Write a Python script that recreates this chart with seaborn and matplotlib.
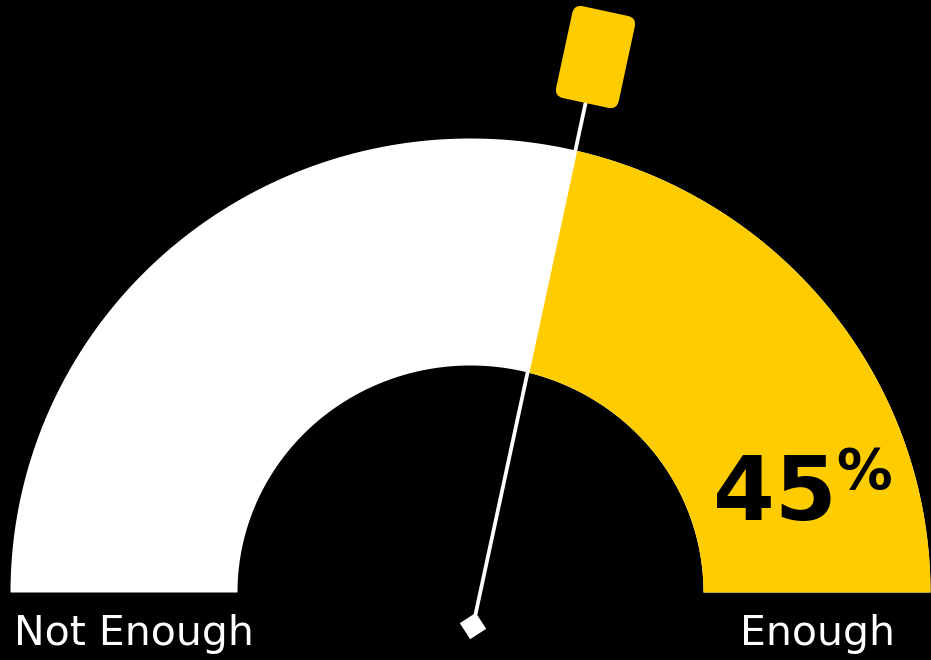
import numpy as np
import matplotlib
matplotlib.use("Agg")
import matplotlib.pyplot as plt
import matplotlib.patches as mpatches
from matplotlib.transforms import Affine2D
import seaborn as sns

# gauge reading and its labels
value = 45
end_labels = ["Not Enough", "Enough"]

sns.set_theme(style="dark", rc={"axes.facecolor": "black", "figure.facecolor": "black"})
plt.rcParams["font.family"] = ["DejaVu Sans"]

yellow = "#ffcc00"
W, H = 931, 660

fig = plt.figure(figsize=(9.31, 6.6), dpi=100)
ax = fig.add_axes([0, 0, 1, 1])
ax.set_xlim(0, W)
ax.set_ylim(0, H)
ax.set_axis_off()


def py(y):
    # picture rows count from the top
    return H - y


# half ring of the gauge
cx, cy = 470.5, py(592.5)
t = np.linspace(0, np.pi, 400)
outer = np.column_stack([cx + 460 * np.cos(t), cy + 454 * np.sin(t)])
inner = np.column_stack([cx + 233 * np.cos(t[::-1]), cy + 227 * np.sin(t[::-1])])
ring = np.vstack([outer, inner])

ax.fill(ring[:, 0], ring[:, 1], color="white", lw=0, zorder=1)
yel = ax.fill(ring[:, 0], ring[:, 1], color=yellow, lw=0, zorder=2)[0]

# needle lean from the value (throw a bit wider than linear, like the original)
tilt = np.radians((50 - value) / 50 * 90 * 1.35)
d = np.array([np.sin(tilt), np.cos(tilt)])
nrm = np.array([d[1], -d[0]])
pivot = np.array([473.0, py(626)])

# yellow part = right of the needle line
clip = mpatches.Polygon([pivot - d * 2000, pivot + d * 2000,
                         pivot + d * 2000 + nrm * 2000, pivot - d * 2000 + nrm * 2000],
                        closed=True, transform=ax.transData)
yel.set_clip_path(clip)

# needle
tip = pivot + d * 540
ax.plot([pivot[0], tip[0]], [pivot[1], tip[1]], color="white", lw=2.7,
        solid_capstyle="butt", zorder=3)

# diamond at the pivot
ang = np.radians(np.array([90, 180, 270, 360])) - tilt
diamond = np.column_stack([pivot[0] + 13.5 * np.cos(ang), pivot[1] + 13.5 * np.sin(ang)])
ax.add_patch(mpatches.Polygon(diamond, closed=True, color="white", lw=0, zorder=4))

# flag on top of the needle
center = pivot + d * 582
flag = mpatches.FancyBboxPatch((-32, -47), 64, 94,
                               boxstyle="round,pad=0,rounding_size=9",
                               facecolor=yellow, edgecolor="none",
                               transform=Affine2D().rotate(-tilt).translate(*center) + ax.transData,
                               zorder=5)
ax.add_patch(flag)

# texts
ax.text(14, py(645), end_labels[0], color="white", fontsize=29.5,
        ha="left", va="baseline", zorder=6)
ax.text(895, py(645), end_labels[1], color="white", fontsize=29.5,
        ha="right", va="baseline", zorder=6)
ax.text(713, py(520), f"{value}", color="black", fontsize=64, fontweight="bold",
        ha="left", va="baseline", zorder=6)
ax.text(836, py(488), "%", color="black", fontsize=40, fontweight="bold",
        ha="left", va="baseline", zorder=6)

fig.savefig("out.png", dpi=100, facecolor="black")
